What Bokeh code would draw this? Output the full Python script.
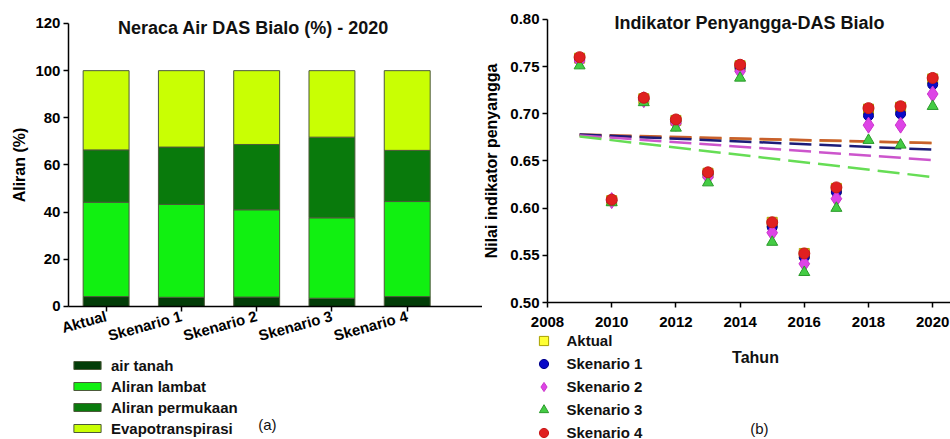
from bokeh.plotting import figure
from bokeh.models import Range1d, FixedTicker, Label, ColumnDataSource, NumeralTickFormatter
from bokeh.layouts import row
from bokeh.embed import file_html
from bokeh.resources import INLINE

# ---------------- data (a) ----------------
scenarios = ["Aktual", "Skenario 1", "Skenario 2", "Skenario 3", "Skenario 4"]
air_tanah = [4.2, 3.9, 4.0, 3.5, 4.2]
aliran_lambat = [40.0, 39.4, 37.0, 34.1, 40.3]
aliran_permukaan = [22.2, 24.3, 27.7, 34.2, 21.7]
evapotranspirasi = [33.6, 32.4, 31.3, 28.2, 33.8]
components = ["air tanah", "Aliran lambat", "Aliran permukaan", "Evapotranspirasi"]
y_ticks_a = [0, 20, 40, 60, 80, 100, 120]

# ---------------- data (b) ----------------
years = [2009, 2010, 2011, 2012, 2013, 2014, 2015, 2016, 2017, 2018, 2019, 2020]
aktual = [0.759, 0.608, 0.716, 0.693, 0.637, 0.751, 0.585, 0.552, 0.621, 0.705, 0.707, 0.737]
skenario1 = [0.758, 0.608, 0.716, 0.692, 0.636, 0.749, 0.580, 0.548, 0.617, 0.698, 0.700, 0.731]
skenario2 = [0.756, 0.608, 0.715, 0.690, 0.633, 0.745, 0.574, 0.541, 0.610, 0.688, 0.688, 0.721]
skenario3 = [0.751, 0.606, 0.712, 0.685, 0.627, 0.738, 0.564, 0.532, 0.600, 0.672, 0.667, 0.708]
skenario4 = [0.760, 0.609, 0.717, 0.694, 0.638, 0.752, 0.585, 0.552, 0.622, 0.706, 0.708, 0.738]
trend_years = [2009, 2020]
trend_aktual = [0.677, 0.669]
trend_sk1 = [0.678, 0.662]
trend_sk2 = [0.677, 0.651]
trend_sk3 = [0.676, 0.633]
trend_sk4 = [0.678, 0.669]
x_ticks_b = [2008, 2010, 2012, 2014, 2016, 2018, 2020]
y_ticks_b = [0.50, 0.55, 0.60, 0.65, 0.70, 0.75, 0.80]

FONT = "Liberation Sans"


def style_axes(p):
    for ax in (p.xaxis[0], p.yaxis[0]):
        ax.axis_line_color = "black"
        ax.axis_line_width = 1.5
        ax.major_tick_line_color = "black"
        ax.major_tick_line_width = 1.5
        ax.major_tick_in = 0
        ax.major_tick_out = 5
        ax.minor_tick_line_color = None
        ax.major_label_text_font = FONT
        ax.major_label_text_font_style = "bold"
        ax.major_label_text_font_size = "15px"
        ax.major_label_text_color = "black"
        ax.axis_label_text_font = FONT
        ax.axis_label_text_font_style = "bold"
        ax.axis_label_text_font_size = "16px"
        ax.axis_label_text_color = "black"
    p.xgrid.grid_line_color = None
    p.ygrid.grid_line_color = None
    p.outline_line_color = None


# ================= chart (a) =================
p1 = figure(width=482, height=439, x_range=Range1d(-1.403, 5.0), y_range=Range1d(-56.4, 129.75),
            output_backend="svg", toolbar_location=None,
            min_border_left=0, min_border_right=0, min_border_top=0, min_border_bottom=0)
src = ColumnDataSource(dict(x=list(range(len(scenarios))), air=air_tanah, lambat=aliran_lambat,
                            perm=aliran_permukaan, evapo=evapotranspirasi))
bar_colors = ["#033d08", "#11f011", "#097a0c", "#c9ff03"]
p1.vbar_stack(["air", "lambat", "perm", "evapo"], x="x", width=0.61, source=src,
              fill_color=bar_colors, line_color="#4c5a3a", line_width=1,
              legend_label=components)
style_axes(p1)
p1.xaxis.fixed_location = 0
p1.xaxis.bounds = (-0.5, 5.0)
p1.xaxis.ticker = FixedTicker(ticks=list(range(len(scenarios))))
p1.xaxis.major_label_overrides = {i: s for i, s in enumerate(scenarios)}
p1.xaxis.major_label_orientation = 0.27
p1.xaxis.major_label_standoff = 4
p1.yaxis.fixed_location = -0.5
p1.yaxis.bounds = (0, 120)
p1.yaxis.ticker = FixedTicker(ticks=y_ticks_a)
p1.yaxis.major_label_standoff = 3
p1.yaxis.axis_label = "Aliran (%)"
p1.yaxis.axis_label_standoff = 4

lg1 = p1.legend[0]
lg1.location = (70, 1)
lg1.padding = 0
lg1.margin = 0
lg1.spacing = 1
lg1.glyph_width = 34
lg1.glyph_height = 10
lg1.label_height = 20
lg1.label_standoff = 7
lg1.border_line_color = None
lg1.background_fill_alpha = 0
lg1.label_text_font = FONT
lg1.label_text_font_size = "15px"
lg1.label_text_font_style = "bold"
lg1.label_text_color = "#111111"

p1.add_layout(Label(x=1.957, y=117.9, text="Neraca Air DAS Bialo (%) - 2020",
                    text_font=FONT, text_font_style="bold", text_font_size="18px",
                    text_align="center", text_baseline="middle", text_color="#111111"))
p1.add_layout(Label(x=2.143, y=-50.0, text="(a)", text_font=FONT, text_font_size="15px",
                    text_align="center", text_baseline="middle", text_color="#111111"))

# ================= chart (b) =================
p2 = figure(width=468, height=439, x_range=Range1d(2005.975, 2020.555),
            y_range=Range1d(0.3548, 0.8201),
            output_backend="svg", toolbar_location=None,
            min_border_left=0, min_border_right=0, min_border_top=0, min_border_bottom=0)
style_axes(p2)
p2.xaxis.fixed_location = 0.5
p2.xaxis.bounds = (2008, 2020.555)
p2.xaxis.ticker = FixedTicker(ticks=x_ticks_b)
p2.xaxis.major_label_standoff = 9
p2.yaxis.fixed_location = 2008
p2.yaxis.bounds = (0.5, 0.8)
p2.yaxis.ticker = FixedTicker(ticks=y_ticks_b)
p2.yaxis.formatter = NumeralTickFormatter(format="0.00")
p2.yaxis.major_label_standoff = 3
p2.yaxis.axis_label = "Nilai indikator penyangga"
p2.yaxis.axis_label_standoff = 7

dash = "22 8"
p2.line(trend_years, trend_aktual, line_color="#e0a03a", line_width=2.5, line_dash=dash)
p2.line(trend_years, trend_sk4, line_color="#c8602c", line_width=2.5, line_dash=dash)
p2.line(trend_years, trend_sk1, line_color="#1c1c78", line_width=2.5, line_dash=dash)
p2.line(trend_years, trend_sk2, line_color="#cc55cc", line_width=2.5, line_dash=dash)
p2.line(trend_years, trend_sk3, line_color="#66dd55", line_width=2.5, line_dash=dash)

p2.scatter(years, aktual, marker="square", size=10, fill_color="#ffff33", line_color="#a8a000",
           legend_label="Aktual")
p2.scatter(years, skenario1, marker="circle", size=10, fill_color="#0a0ac8", line_color="#00008b",
           legend_label="Skenario 1")
p2.scatter(years, skenario2, marker="diamond", size=16, fill_color="#dd44e6", line_color="#cc33cc",
           legend_label="Skenario 2")
p2.scatter(years, skenario3, marker="triangle", size=11, fill_color="#44cc44", line_color="#2a9a2a",
           legend_label="Skenario 3")
p2.scatter(years, skenario4, marker="circle", size=11, fill_color="#e02020", line_color="#c81818",
           legend_label="Skenario 4")

lg2 = p2.legend[0]
lg2.location = (49.5, -4.5)
lg2.padding = 0
lg2.margin = 0
lg2.spacing = -3
lg2.glyph_width = 23
lg2.glyph_height = 23
lg2.label_height = 20
lg2.label_standoff = 12
lg2.border_line_color = None
lg2.background_fill_alpha = 0
lg2.label_text_font = FONT
lg2.label_text_font_size = "15px"
lg2.label_text_font_style = "bold"
lg2.label_text_color = "#111111"

p2.add_layout(Label(x=2014.29, y=0.7958, text="Indikator Penyangga-DAS Bialo",
                    text_font=FONT, text_font_style="bold", text_font_size="18px",
                    text_align="center", text_baseline="middle", text_color="#111111"))
p2.add_layout(Label(x=2014.48, y=0.4417, text="Tahun", text_font=FONT, text_font_style="bold",
                    text_font_size="16px", text_align="center", text_baseline="middle",
                    text_color="#111111"))
p2.add_layout(Label(x=2014.60, y=0.3664, text="(b)", text_font=FONT, text_font_size="15px",
                    text_align="center", text_baseline="middle", text_color="#111111"))

layout = row(p1, p2)
open("out.html", "w").write(file_html(layout, INLINE))
